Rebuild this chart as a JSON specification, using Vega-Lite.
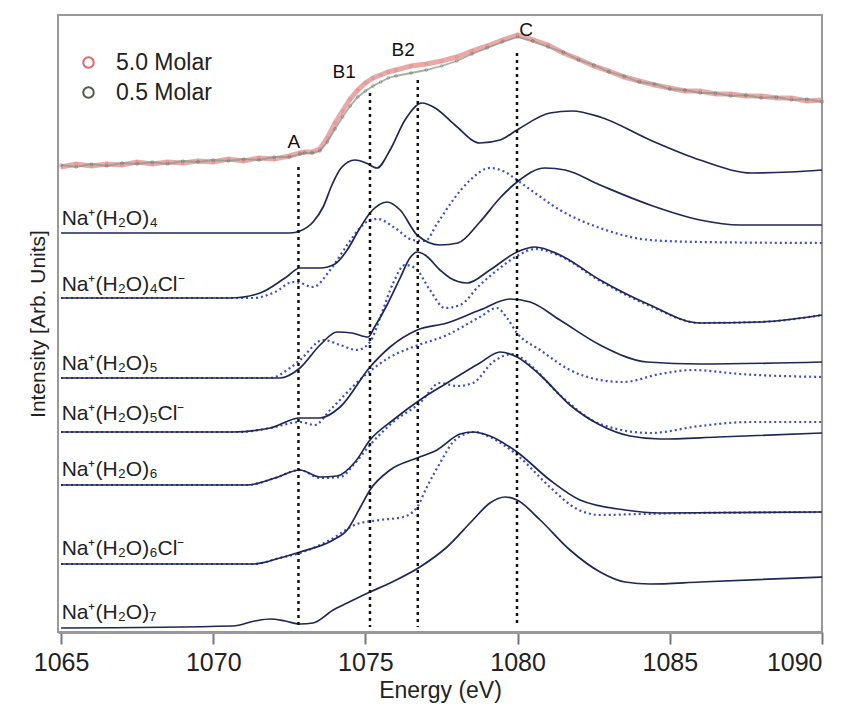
{
  "$schema": "https://vega.github.io/schema/vega-lite/v6.json",
  "width": 764,
  "height": 617,
  "autosize": {"type": "none"},
  "padding": {"left": 58, "top": 15, "right": 33, "bottom": 83},
  "background": "white",
  "config": {
    "view": {"stroke": "#999", "strokeWidth": 2},
    "font": "Liberation Sans"
  },
  "datasets": {
    "exp": [
      {"m":"5.0 Molar","e":1065.0,"v":465},{"m":"5.0 Molar","e":1065.5,"v":468},{"m":"5.0 Molar","e":1066.0,"v":466},{"m":"5.0 Molar","e":1066.5,"v":468},{"m":"5.0 Molar","e":1067.0,"v":467},{"m":"5.0 Molar","e":1067.5,"v":470},{"m":"5.0 Molar","e":1068.0,"v":468},{"m":"5.0 Molar","e":1068.5,"v":470},{"m":"5.0 Molar","e":1069.0,"v":469},{"m":"5.0 Molar","e":1069.5,"v":471},{"m":"5.0 Molar","e":1070.0,"v":470},{"m":"5.0 Molar","e":1070.5,"v":473},{"m":"5.0 Molar","e":1071.0,"v":471},{"m":"5.0 Molar","e":1071.5,"v":474},{"m":"5.0 Molar","e":1072.0,"v":473},{"m":"5.0 Molar","e":1072.5,"v":476},{"m":"5.0 Molar","e":1072.85,"v":479},{"m":"5.0 Molar","e":1073.0,"v":480},{"m":"5.0 Molar","e":1073.25,"v":480},{"m":"5.0 Molar","e":1073.5,"v":483},{"m":"5.0 Molar","e":1073.75,"v":494},{"m":"5.0 Molar","e":1074.0,"v":509},{"m":"5.0 Molar","e":1074.25,"v":521},{"m":"5.0 Molar","e":1074.5,"v":533},{"m":"5.0 Molar","e":1074.75,"v":542},{"m":"5.0 Molar","e":1075.0,"v":549},{"m":"5.0 Molar","e":1075.25,"v":554},{"m":"5.0 Molar","e":1075.5,"v":557},{"m":"5.0 Molar","e":1075.75,"v":560},{"m":"5.0 Molar","e":1076.0,"v":562},{"m":"5.0 Molar","e":1076.5,"v":566},{"m":"5.0 Molar","e":1077.0,"v":568},{"m":"5.0 Molar","e":1077.5,"v":571},{"m":"5.0 Molar","e":1078.0,"v":575},{"m":"5.0 Molar","e":1078.5,"v":581},{"m":"5.0 Molar","e":1079.0,"v":586},{"m":"5.0 Molar","e":1079.5,"v":592},{"m":"5.0 Molar","e":1080.0,"v":597},{"m":"5.0 Molar","e":1080.5,"v":592},{"m":"5.0 Molar","e":1081.0,"v":587},{"m":"5.0 Molar","e":1081.5,"v":579},{"m":"5.0 Molar","e":1082.0,"v":573},{"m":"5.0 Molar","e":1082.5,"v":566},{"m":"5.0 Molar","e":1083.0,"v":561},{"m":"5.0 Molar","e":1083.5,"v":555},{"m":"5.0 Molar","e":1084.0,"v":551},{"m":"5.0 Molar","e":1084.5,"v":547},{"m":"5.0 Molar","e":1085.0,"v":544},{"m":"5.0 Molar","e":1085.5,"v":541},{"m":"5.0 Molar","e":1086.0,"v":541},{"m":"5.0 Molar","e":1086.5,"v":538},{"m":"5.0 Molar","e":1087.0,"v":538},{"m":"5.0 Molar","e":1087.5,"v":536},{"m":"5.0 Molar","e":1088.0,"v":536},{"m":"5.0 Molar","e":1088.5,"v":534},{"m":"5.0 Molar","e":1089.0,"v":534},{"m":"5.0 Molar","e":1089.5,"v":531},{"m":"5.0 Molar","e":1090.0,"v":532},
      {"m":"0.5 Molar","e":1065.0,"v":467},{"m":"0.5 Molar","e":1065.5,"v":465},{"m":"0.5 Molar","e":1066.0,"v":468},{"m":"0.5 Molar","e":1066.5,"v":466},{"m":"0.5 Molar","e":1067.0,"v":469},{"m":"0.5 Molar","e":1067.5,"v":468},{"m":"0.5 Molar","e":1068.0,"v":470},{"m":"0.5 Molar","e":1068.5,"v":468},{"m":"0.5 Molar","e":1069.0,"v":471},{"m":"0.5 Molar","e":1069.5,"v":470},{"m":"0.5 Molar","e":1070.0,"v":472},{"m":"0.5 Molar","e":1070.5,"v":471},{"m":"0.5 Molar","e":1071.0,"v":473},{"m":"0.5 Molar","e":1071.5,"v":472},{"m":"0.5 Molar","e":1072.0,"v":475},{"m":"0.5 Molar","e":1072.5,"v":475},{"m":"0.5 Molar","e":1072.85,"v":478},{"m":"0.5 Molar","e":1073.0,"v":479},{"m":"0.5 Molar","e":1073.25,"v":479},{"m":"0.5 Molar","e":1073.5,"v":481},{"m":"0.5 Molar","e":1073.75,"v":490},{"m":"0.5 Molar","e":1074.0,"v":503},{"m":"0.5 Molar","e":1074.25,"v":515},{"m":"0.5 Molar","e":1074.5,"v":526},{"m":"0.5 Molar","e":1074.75,"v":535},{"m":"0.5 Molar","e":1075.0,"v":541},{"m":"0.5 Molar","e":1075.25,"v":546},{"m":"0.5 Molar","e":1075.5,"v":550},{"m":"0.5 Molar","e":1075.75,"v":554},{"m":"0.5 Molar","e":1076.0,"v":556},{"m":"0.5 Molar","e":1076.5,"v":559},{"m":"0.5 Molar","e":1077.0,"v":562},{"m":"0.5 Molar","e":1077.5,"v":566},{"m":"0.5 Molar","e":1078.0,"v":571},{"m":"0.5 Molar","e":1078.5,"v":578},{"m":"0.5 Molar","e":1079.0,"v":584},{"m":"0.5 Molar","e":1079.5,"v":590},{"m":"0.5 Molar","e":1080.0,"v":595},{"m":"0.5 Molar","e":1080.5,"v":591},{"m":"0.5 Molar","e":1081.0,"v":585},{"m":"0.5 Molar","e":1081.5,"v":580},{"m":"0.5 Molar","e":1082.0,"v":572},{"m":"0.5 Molar","e":1082.5,"v":567},{"m":"0.5 Molar","e":1083.0,"v":560},{"m":"0.5 Molar","e":1083.5,"v":556},{"m":"0.5 Molar","e":1084.0,"v":550},{"m":"0.5 Molar","e":1084.5,"v":548},{"m":"0.5 Molar","e":1085.0,"v":543},{"m":"0.5 Molar","e":1085.5,"v":542},{"m":"0.5 Molar","e":1086.0,"v":539},{"m":"0.5 Molar","e":1086.5,"v":539},{"m":"0.5 Molar","e":1087.0,"v":536},{"m":"0.5 Molar","e":1087.5,"v":537},{"m":"0.5 Molar","e":1088.0,"v":534},{"m":"0.5 Molar","e":1088.5,"v":535},{"m":"0.5 Molar","e":1089.0,"v":532},{"m":"0.5 Molar","e":1089.5,"v":533},{"m":"0.5 Molar","e":1090.0,"v":530}
    ],
    "sim": [
      {"s":"Na4","k":"solid","e":1065,"v":399},{"s":"Na4","k":"solid","e":1072.52,"v":399},{"s":"Na4","k":"solid","e":1072.85,"v":401},{"s":"Na4","k":"solid","e":1073.28,"v":410},{"s":"Na4","k":"solid","e":1073.61,"v":425},{"s":"Na4","k":"solid","e":1073.9,"v":447},{"s":"Na4","k":"solid","e":1074.2,"v":464},{"s":"Na4","k":"solid","e":1074.66,"v":472},{"s":"Na4","k":"solid","e":1075.02,"v":469},{"s":"Na4","k":"solid","e":1075.38,"v":464},{"s":"Na4","k":"solid","e":1075.81,"v":482},{"s":"Na4","k":"solid","e":1076.3,"v":512},{"s":"Na4","k":"solid","e":1076.86,"v":529},{"s":"Na4","k":"solid","e":1077.29,"v":524},{"s":"Na4","k":"solid","e":1077.94,"v":507},{"s":"Na4","k":"solid","e":1078.76,"v":489},{"s":"Na4","k":"solid","e":1079.42,"v":492},{"s":"Na4","k":"solid","e":1079.98,"v":502},{"s":"Na4","k":"solid","e":1081.06,"v":519},{"s":"Na4","k":"solid","e":1081.79,"v":521},{"s":"Na4","k":"solid","e":1082.71,"v":515},{"s":"Na4","k":"solid","e":1084.35,"v":492},{"s":"Na4","k":"solid","e":1085.99,"v":472},{"s":"Na4","k":"solid","e":1087.7,"v":459},{"s":"Na4","k":"solid","e":1088.95,"v":460},{"s":"Na4","k":"solid","e":1090,"v":462},
      {"s":"Na4Cl","k":"solid","e":1065,"v":334},{"s":"Na4Cl","k":"solid","e":1070.55,"v":334},{"s":"Na4Cl","k":"solid","e":1071.54,"v":339},{"s":"Na4Cl","k":"solid","e":1072.36,"v":354},{"s":"Na4Cl","k":"solid","e":1072.85,"v":364},{"s":"Na4Cl","k":"solid","e":1073.51,"v":364},{"s":"Na4Cl","k":"solid","e":1074.0,"v":368},{"s":"Na4Cl","k":"solid","e":1074.4,"v":382},{"s":"Na4Cl","k":"solid","e":1074.82,"v":404},{"s":"Na4Cl","k":"solid","e":1075.15,"v":419},{"s":"Na4Cl","k":"solid","e":1075.71,"v":430},{"s":"Na4Cl","k":"solid","e":1076.14,"v":422},{"s":"Na4Cl","k":"solid","e":1076.7,"v":397},{"s":"Na4Cl","k":"solid","e":1077.45,"v":387},{"s":"Na4Cl","k":"solid","e":1078.04,"v":389},{"s":"Na4Cl","k":"solid","e":1078.76,"v":410},{"s":"Na4Cl","k":"solid","e":1079.42,"v":434},{"s":"Na4Cl","k":"solid","e":1079.98,"v":450},{"s":"Na4Cl","k":"solid","e":1080.9,"v":464},{"s":"Na4Cl","k":"solid","e":1081.56,"v":462},{"s":"Na4Cl","k":"solid","e":1082.71,"v":447},{"s":"Na4Cl","k":"solid","e":1084.35,"v":427},{"s":"Na4Cl","k":"solid","e":1085.99,"v":412},{"s":"Na4Cl","k":"solid","e":1087.31,"v":407},{"s":"Na4Cl","k":"solid","e":1090,"v":407},
      {"s":"Na4Cl","k":"dot","e":1065,"v":334},{"s":"Na4Cl","k":"dot","e":1071.31,"v":334},{"s":"Na4Cl","k":"dot","e":1072.03,"v":340},{"s":"Na4Cl","k":"dot","e":1072.62,"v":350},{"s":"Na4Cl","k":"dot","e":1072.85,"v":349},{"s":"Na4Cl","k":"dot","e":1073.28,"v":345},{"s":"Na4Cl","k":"dot","e":1073.84,"v":362},{"s":"Na4Cl","k":"dot","e":1074.4,"v":387},{"s":"Na4Cl","k":"dot","e":1074.82,"v":404},{"s":"Na4Cl","k":"dot","e":1075.15,"v":412},{"s":"Na4Cl","k":"dot","e":1075.41,"v":413},{"s":"Na4Cl","k":"dot","e":1075.97,"v":404},{"s":"Na4Cl","k":"dot","e":1076.56,"v":392},{"s":"Na4Cl","k":"dot","e":1076.96,"v":391},{"s":"Na4Cl","k":"dot","e":1077.35,"v":408},{"s":"Na4Cl","k":"dot","e":1077.88,"v":432},{"s":"Na4Cl","k":"dot","e":1078.44,"v":452},{"s":"Na4Cl","k":"dot","e":1079.09,"v":464},{"s":"Na4Cl","k":"dot","e":1079.59,"v":460},{"s":"Na4Cl","k":"dot","e":1079.98,"v":452},{"s":"Na4Cl","k":"dot","e":1080.57,"v":439},{"s":"Na4Cl","k":"dot","e":1081.39,"v":422},{"s":"Na4Cl","k":"dot","e":1082.71,"v":404},{"s":"Na4Cl","k":"dot","e":1084.35,"v":392},{"s":"Na4Cl","k":"dot","e":1085.99,"v":390},{"s":"Na4Cl","k":"dot","e":1090,"v":389},
      {"s":"Na5","k":"solid","e":1065,"v":254},{"s":"Na5","k":"solid","e":1072.19,"v":254},{"s":"Na5","k":"solid","e":1072.85,"v":264},{"s":"Na5","k":"solid","e":1073.51,"v":287},{"s":"Na5","k":"solid","e":1074.07,"v":300},{"s":"Na5","k":"solid","e":1074.56,"v":299},{"s":"Na5","k":"solid","e":1075.09,"v":295},{"s":"Na5","k":"solid","e":1075.3,"v":305},{"s":"Na5","k":"solid","e":1075.71,"v":327},{"s":"Na5","k":"solid","e":1076.14,"v":354},{"s":"Na5","k":"solid","e":1076.46,"v":374},{"s":"Na5","k":"solid","e":1076.7,"v":380},{"s":"Na5","k":"solid","e":1076.96,"v":377},{"s":"Na5","k":"solid","e":1077.45,"v":362},{"s":"Na5","k":"solid","e":1077.78,"v":354},{"s":"Na5","k":"solid","e":1078.34,"v":349},{"s":"Na5","k":"solid","e":1079.09,"v":362},{"s":"Na5","k":"solid","e":1079.98,"v":380},{"s":"Na5","k":"solid","e":1080.57,"v":385},{"s":"Na5","k":"solid","e":1081.39,"v":377},{"s":"Na5","k":"solid","e":1082.71,"v":352},{"s":"Na5","k":"solid","e":1084.35,"v":327},{"s":"Na5","k":"solid","e":1085.99,"v":309},{"s":"Na5","k":"solid","e":1087.96,"v":310},{"s":"Na5","k":"solid","e":1090,"v":317},
      {"s":"Na5","k":"dot","e":1065,"v":254},{"s":"Na5","k":"dot","e":1071.87,"v":254},{"s":"Na5","k":"dot","e":1072.52,"v":264},{"s":"Na5","k":"dot","e":1072.85,"v":272},{"s":"Na5","k":"dot","e":1073.61,"v":292},{"s":"Na5","k":"dot","e":1074.17,"v":287},{"s":"Na5","k":"dot","e":1074.72,"v":282},{"s":"Na5","k":"dot","e":1075.15,"v":290},{"s":"Na5","k":"dot","e":1075.48,"v":314},{"s":"Na5","k":"dot","e":1075.91,"v":349},{"s":"Na5","k":"dot","e":1076.3,"v":367},{"s":"Na5","k":"dot","e":1076.63,"v":364},{"s":"Na5","k":"dot","e":1077.12,"v":342},{"s":"Na5","k":"dot","e":1077.61,"v":324},{"s":"Na5","k":"dot","e":1078.11,"v":327},{"s":"Na5","k":"dot","e":1078.76,"v":347},{"s":"Na5","k":"dot","e":1079.42,"v":364},{"s":"Na5","k":"dot","e":1079.98,"v":376},{"s":"Na5","k":"dot","e":1080.57,"v":383},{"s":"Na5","k":"dot","e":1081.39,"v":376},{"s":"Na5","k":"dot","e":1082.71,"v":351},{"s":"Na5","k":"dot","e":1084.35,"v":326},{"s":"Na5","k":"dot","e":1085.99,"v":309},{"s":"Na5","k":"dot","e":1087.96,"v":310},{"s":"Na5","k":"dot","e":1090,"v":317},
      {"s":"Na5Cl","k":"solid","e":1065,"v":200},{"s":"Na5Cl","k":"solid","e":1070.65,"v":200},{"s":"Na5Cl","k":"solid","e":1071.87,"v":204},{"s":"Na5Cl","k":"solid","e":1072.85,"v":214},{"s":"Na5Cl","k":"solid","e":1073.51,"v":214},{"s":"Na5Cl","k":"solid","e":1074.17,"v":225},{"s":"Na5Cl","k":"solid","e":1075.15,"v":265},{"s":"Na5Cl","k":"solid","e":1075.81,"v":285},{"s":"Na5Cl","k":"solid","e":1076.7,"v":302},{"s":"Na5Cl","k":"solid","e":1077.68,"v":309},{"s":"Na5Cl","k":"solid","e":1078.76,"v":322},{"s":"Na5Cl","k":"solid","e":1079.75,"v":333},{"s":"Na5Cl","k":"solid","e":1080.41,"v":330},{"s":"Na5Cl","k":"solid","e":1081.39,"v":312},{"s":"Na5Cl","k":"solid","e":1082.71,"v":287},{"s":"Na5Cl","k":"solid","e":1084.25,"v":270},{"s":"Na5Cl","k":"solid","e":1085.99,"v":268},{"s":"Na5Cl","k":"solid","e":1090,"v":270},
      {"s":"Na5Cl","k":"dot","e":1065,"v":200},{"s":"Na5Cl","k":"dot","e":1070.88,"v":200},{"s":"Na5Cl","k":"dot","e":1071.87,"v":204},{"s":"Na5Cl","k":"dot","e":1072.85,"v":210},{"s":"Na5Cl","k":"dot","e":1073.34,"v":207},{"s":"Na5Cl","k":"dot","e":1073.84,"v":222},{"s":"Na5Cl","k":"dot","e":1074.92,"v":255},{"s":"Na5Cl","k":"dot","e":1075.81,"v":275},{"s":"Na5Cl","k":"dot","e":1076.56,"v":285},{"s":"Na5Cl","k":"dot","e":1077.68,"v":297},{"s":"Na5Cl","k":"dot","e":1078.76,"v":315},{"s":"Na5Cl","k":"dot","e":1079.32,"v":324},{"s":"Na5Cl","k":"dot","e":1079.65,"v":314},{"s":"Na5Cl","k":"dot","e":1079.98,"v":299},{"s":"Na5Cl","k":"dot","e":1080.74,"v":282},{"s":"Na5Cl","k":"dot","e":1081.72,"v":262},{"s":"Na5Cl","k":"dot","e":1082.71,"v":252},{"s":"Na5Cl","k":"dot","e":1083.46,"v":250},{"s":"Na5Cl","k":"dot","e":1084.68,"v":258},{"s":"Na5Cl","k":"dot","e":1085.76,"v":262},{"s":"Na5Cl","k":"dot","e":1087.31,"v":258},{"s":"Na5Cl","k":"dot","e":1090,"v":255},
      {"s":"Na6","k":"solid","e":1065,"v":147},{"s":"Na6","k":"solid","e":1071.11,"v":147},{"s":"Na6","k":"solid","e":1072.03,"v":154},{"s":"Na6","k":"solid","e":1072.85,"v":162},{"s":"Na6","k":"solid","e":1073.51,"v":155},{"s":"Na6","k":"solid","e":1074.07,"v":156},{"s":"Na6","k":"solid","e":1074.66,"v":170},{"s":"Na6","k":"solid","e":1075.15,"v":192},{"s":"Na6","k":"solid","e":1075.91,"v":212},{"s":"Na6","k":"solid","e":1076.79,"v":232},{"s":"Na6","k":"solid","e":1077.68,"v":249},{"s":"Na6","k":"solid","e":1078.76,"v":269},{"s":"Na6","k":"solid","e":1079.42,"v":280},{"s":"Na6","k":"solid","e":1079.98,"v":275},{"s":"Na6","k":"solid","e":1080.74,"v":257},{"s":"Na6","k":"solid","e":1081.72,"v":227},{"s":"Na6","k":"solid","e":1082.71,"v":207},{"s":"Na6","k":"solid","e":1083.69,"v":196},{"s":"Na6","k":"solid","e":1084.68,"v":193},{"s":"Na6","k":"solid","e":1086.6,"v":195},{"s":"Na6","k":"solid","e":1090,"v":199},
      {"s":"Na6","k":"dot","e":1065,"v":147},{"s":"Na6","k":"dot","e":1071.11,"v":147},{"s":"Na6","k":"dot","e":1072.03,"v":154},{"s":"Na6","k":"dot","e":1072.85,"v":162},{"s":"Na6","k":"dot","e":1073.51,"v":154},{"s":"Na6","k":"dot","e":1074.17,"v":155},{"s":"Na6","k":"dot","e":1074.66,"v":169},{"s":"Na6","k":"dot","e":1075.15,"v":187},{"s":"Na6","k":"dot","e":1075.91,"v":210},{"s":"Na6","k":"dot","e":1076.79,"v":229},{"s":"Na6","k":"dot","e":1077.45,"v":249},{"s":"Na6","k":"dot","e":1078.01,"v":246},{"s":"Na6","k":"dot","e":1078.53,"v":249},{"s":"Na6","k":"dot","e":1079.19,"v":270},{"s":"Na6","k":"dot","e":1079.85,"v":278},{"s":"Na6","k":"dot","e":1080.41,"v":267},{"s":"Na6","k":"dot","e":1081.39,"v":237},{"s":"Na6","k":"dot","e":1082.71,"v":208},{"s":"Na6","k":"dot","e":1084.35,"v":199},{"s":"Na6","k":"dot","e":1085.99,"v":206},{"s":"Na6","k":"dot","e":1087.63,"v":210},{"s":"Na6","k":"dot","e":1090,"v":210},
      {"s":"Na6Cl","k":"solid","e":1065,"v":68},{"s":"Na6Cl","k":"solid","e":1071.31,"v":68},{"s":"Na6Cl","k":"solid","e":1072.19,"v":74},{"s":"Na6Cl","k":"solid","e":1072.85,"v":80},{"s":"Na6Cl","k":"solid","e":1073.94,"v":92},{"s":"Na6Cl","k":"solid","e":1074.4,"v":102},{"s":"Na6Cl","k":"solid","e":1074.82,"v":124},{"s":"Na6Cl","k":"solid","e":1075.15,"v":142},{"s":"Na6Cl","k":"solid","e":1075.81,"v":162},{"s":"Na6Cl","k":"solid","e":1076.7,"v":174},{"s":"Na6Cl","k":"solid","e":1077.35,"v":182},{"s":"Na6Cl","k":"solid","e":1078.11,"v":198},{"s":"Na6Cl","k":"solid","e":1078.53,"v":200},{"s":"Na6Cl","k":"solid","e":1079.09,"v":196},{"s":"Na6Cl","k":"solid","e":1079.98,"v":180},{"s":"Na6Cl","k":"solid","e":1081.06,"v":152},{"s":"Na6Cl","k":"solid","e":1082.05,"v":132},{"s":"Na6Cl","k":"solid","e":1083.53,"v":122},{"s":"Na6Cl","k":"solid","e":1084.68,"v":119},{"s":"Na6Cl","k":"solid","e":1090,"v":120},
      {"s":"Na6Cl","k":"dot","e":1065,"v":68},{"s":"Na6Cl","k":"dot","e":1071.31,"v":68},{"s":"Na6Cl","k":"dot","e":1072.19,"v":74},{"s":"Na6Cl","k":"dot","e":1072.85,"v":79},{"s":"Na6Cl","k":"dot","e":1073.84,"v":92},{"s":"Na6Cl","k":"dot","e":1074.72,"v":108},{"s":"Na6Cl","k":"dot","e":1075.48,"v":112},{"s":"Na6Cl","k":"dot","e":1076.24,"v":115},{"s":"Na6Cl","k":"dot","e":1076.7,"v":125},{"s":"Na6Cl","k":"dot","e":1077.02,"v":145},{"s":"Na6Cl","k":"dot","e":1077.45,"v":169},{"s":"Na6Cl","k":"dot","e":1077.88,"v":190},{"s":"Na6Cl","k":"dot","e":1078.27,"v":198},{"s":"Na6Cl","k":"dot","e":1078.6,"v":200},{"s":"Na6Cl","k":"dot","e":1079.09,"v":195},{"s":"Na6Cl","k":"dot","e":1079.98,"v":177},{"s":"Na6Cl","k":"dot","e":1081.06,"v":145},{"s":"Na6Cl","k":"dot","e":1081.89,"v":124},{"s":"Na6Cl","k":"dot","e":1082.71,"v":117},{"s":"Na6Cl","k":"dot","e":1084.02,"v":118},{"s":"Na6Cl","k":"dot","e":1085.99,"v":119},{"s":"Na6Cl","k":"dot","e":1090,"v":120},
      {"s":"Na7","k":"solid","e":1065,"v":4},{"s":"Na7","k":"solid","e":1070.65,"v":6},{"s":"Na7","k":"solid","e":1071.37,"v":11},{"s":"Na7","k":"solid","e":1071.87,"v":13},{"s":"Na7","k":"solid","e":1072.36,"v":11},{"s":"Na7","k":"solid","e":1072.85,"v":8},{"s":"Na7","k":"solid","e":1073.28,"v":9},{"s":"Na7","k":"solid","e":1073.94,"v":22},{"s":"Na7","k":"solid","e":1074.4,"v":29},{"s":"Na7","k":"solid","e":1075.15,"v":40},{"s":"Na7","k":"solid","e":1075.81,"v":49},{"s":"Na7","k":"solid","e":1076.79,"v":65},{"s":"Na7","k":"solid","e":1077.68,"v":85},{"s":"Na7","k":"solid","e":1078.53,"v":112},{"s":"Na7","k":"solid","e":1079.09,"v":129},{"s":"Na7","k":"solid","e":1079.59,"v":135},{"s":"Na7","k":"solid","e":1079.98,"v":132},{"s":"Na7","k":"solid","e":1080.74,"v":112},{"s":"Na7","k":"solid","e":1081.72,"v":82},{"s":"Na7","k":"solid","e":1082.71,"v":60},{"s":"Na7","k":"solid","e":1083.53,"v":50},{"s":"Na7","k":"solid","e":1084.35,"v":48},{"s":"Na7","k":"solid","e":1085.99,"v":50},{"s":"Na7","k":"solid","e":1090,"v":55}
    ],
    "marks": [
      {"e":1072.8,"v":465,"v2":7},
      {"e":1075.15,"v":539,"v2":5},
      {"e":1076.72,"v":552,"v2":5},
      {"e":1079.98,"v":579,"v2":5}
    ],
    "peaks": [
      {"t":"A","e":1072.65,"v":490},
      {"t":"B1","e":1074.3,"v":560},
      {"t":"B2","e":1076.24,"v":582},
      {"t":"C","e":1080.28,"v":602}
    ],
    "names": [
      {"t":"Na⁺(H₂O)₄","e":1065.02,"v":407},
      {"t":"Na⁺(H₂O)₄Cl⁻","e":1065.02,"v":341},
      {"t":"Na⁺(H₂O)₅","e":1065.02,"v":262},
      {"t":"Na⁺(H₂O)₅Cl⁻","e":1065.02,"v":212},
      {"t":"Na⁺(H₂O)₆","e":1065.02,"v":156},
      {"t":"Na⁺(H₂O)₆Cl⁻","e":1065.02,"v":77},
      {"t":"Na⁺(H₂O)₇","e":1065.02,"v":13}
    ]
  },
  "encoding": {
    "x": {
      "field": "e", "type": "quantitative",
      "scale": {"domain": [1064.9, 1090], "nice": false, "zero": false},
      "axis": {
        "values": [1065, 1070, 1075, 1080, 1085, 1090], "format": "d",
        "title": "Energy (eV)", "grid": false,
        "tickSize": 12, "tickWidth": 2, "tickColor": "#777",
        "domainColor": "#999", "domainWidth": 3,
        "labelFontSize": 25, "labelColor": "#222", "labelPadding": 6, "labelFont": "Liberation Sans",
        "titleFontSize": 23, "titleFontWeight": "normal", "titleColor": "#222", "titlePadding": 4, "titleFont": "Liberation Sans"
      }
    },
    "y": {
      "field": "v", "type": "quantitative",
      "scale": {"domain": [0, 617], "nice": false, "zero": false},
      "axis": {
        "title": "Intensity [Arb. Units]", "labels": false, "ticks": false, "domain": false, "grid": false,
        "titleFontSize": 21, "titleFontWeight": "normal", "titleColor": "#222", "titlePadding": 10, "titleFont": "Liberation Sans"
      }
    }
  },
  "layer": [
    {
      "data": {"name": "exp"},
      "transform": [{"filter": "datum.m === '5.0 Molar'"}],
      "mark": {"type": "line", "color": "#e8a0a0", "strokeWidth": 5, "opacity": 0.9}
    },
    {
      "data": {"name": "exp"},
      "transform": [{"filter": "datum.m === '0.5 Molar'"}],
      "mark": {"type": "line", "color": "#8f9c8f", "strokeWidth": 1.8, "opacity": 0.8}
    },
    {
      "data": {"name": "exp"},
      "mark": {"type": "point", "filled": false, "size": 8, "strokeWidth": 1, "opacity": 0.4},
      "encoding": {
        "stroke": {
          "field": "m", "type": "nominal",
          "scale": {"domain": ["5.0 Molar", "0.5 Molar"], "range": ["#d86a6a", "#4f5a4f"]},
          "legend": {
            "title": null, "orient": "none", "legendX": 19, "legendY": 36,
            "symbolType": "circle", "symbolSize": 110, "symbolStrokeWidth": 2, "symbolOpacity": 1,
            "symbolFillColor": "transparent",
            "labelFontSize": 23, "labelColor": "#222", "labelFont": "Liberation Sans", "labelOffset": 16,
            "rowPadding": 6
          }
        }
      }
    },
    {
      "data": {"name": "sim"},
      "transform": [{"filter": "datum.k === 'dot'"}],
      "mark": {"type": "line", "color": "#3d4fc4", "strokeWidth": 2.2, "strokeDash": [2, 3], "interpolate": "monotone"},
      "encoding": {"detail": {"field": "s", "type": "nominal"}}
    },
    {
      "data": {"name": "sim"},
      "transform": [{"filter": "datum.k === 'solid'"}],
      "mark": {"type": "line", "color": "#1f2755", "strokeWidth": 1.7, "interpolate": "monotone"},
      "encoding": {"detail": {"field": "s", "type": "nominal"}}
    },
    {
      "data": {"name": "marks"},
      "mark": {"type": "rule", "color": "#111", "strokeWidth": 2.5, "strokeDash": [3, 4]},
      "encoding": {"y2": {"field": "v2"}}
    },
    {
      "data": {"name": "peaks"},
      "mark": {"type": "text", "fontSize": 19, "color": "#111", "align": "center", "baseline": "middle", "font": "Liberation Sans"},
      "encoding": {"text": {"field": "t"}}
    },
    {
      "data": {"name": "names"},
      "mark": {"type": "text", "fontSize": 21, "color": "#222", "align": "left", "baseline": "alphabetic", "font": "Liberation Sans"},
      "encoding": {"text": {"field": "t"}}
    }
  ]
}
